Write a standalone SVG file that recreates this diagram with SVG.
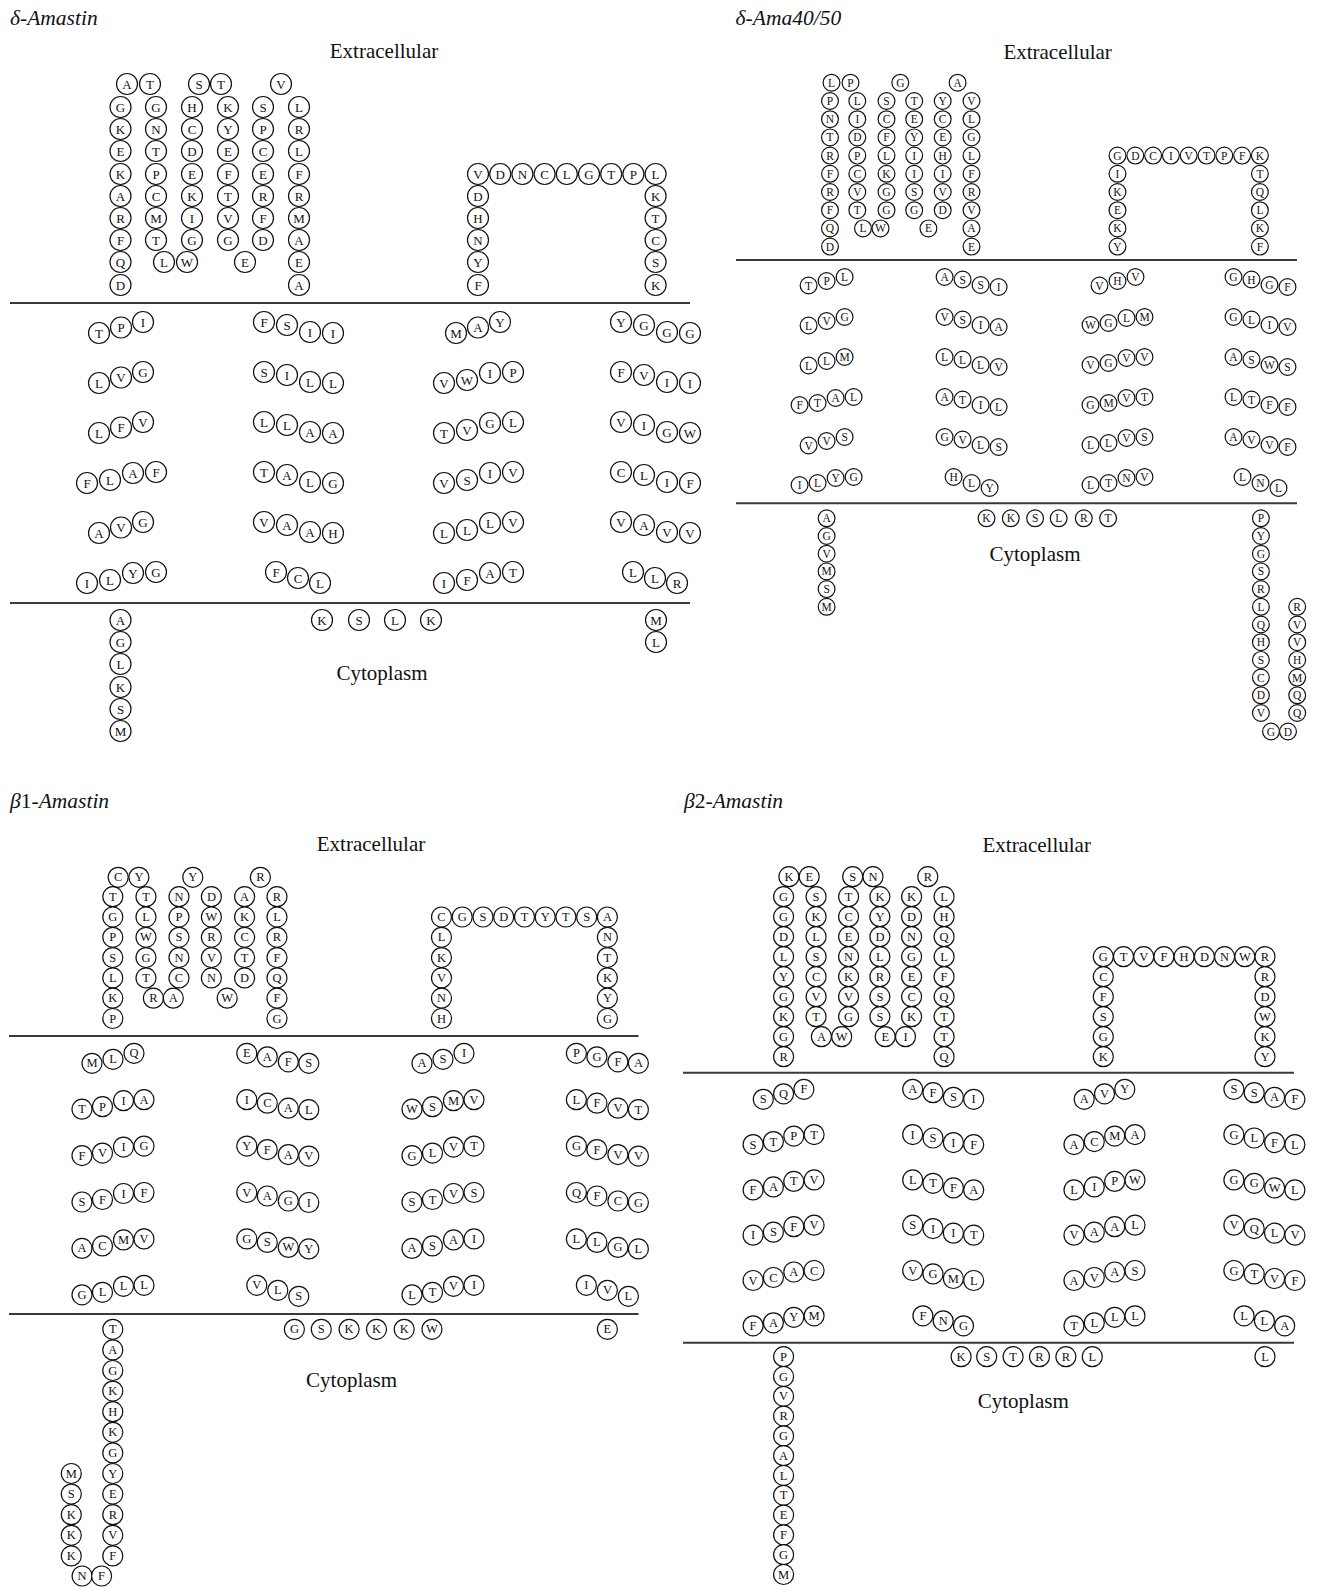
<svg xmlns="http://www.w3.org/2000/svg" width="1317" height="1587" viewBox="0 0 1317 1587">
<style>
.bg{fill:#fff}
.lbl{font-family:"Liberation Serif","DejaVu Serif",serif;font-size:21px;fill:#111}
.ttl{font-style:italic}
.big{font-size:21.5px}
.mid{text-anchor:middle}
.mem{stroke:#3a3a3a;stroke-width:2}
.res circle{fill:#fff;stroke:#111;stroke-width:1.2}
.res text{font-family:"Liberation Serif","DejaVu Serif",serif;text-anchor:middle;dominant-baseline:central;fill:#111}
.p1 circle{r:10.5px}.p1 text{font-size:13px}
.p2 circle{r:8.4px}.p2 text{font-size:11.5px}
.p3 circle{r:10px}.p3 text{font-size:12.5px}
.p4 circle{r:10px}.p4 text{font-size:12.5px}
</style>
<rect class="bg" width="1317" height="1587"/>

<!-- ================= Panel 1: delta-Amastin ================= -->
<g id="panel-delta-amastin">
<text class="lbl ttl big" x="10" y="25">δ-Amastin</text>
<text class="lbl mid" x="384" y="58">Extracellular</text>
<text class="lbl mid" x="382" y="680">Cytoplasm</text>
<line class="mem" x1="10" y1="303" x2="690" y2="303"/>
<line class="mem" x1="10" y1="603" x2="690" y2="603"/>
<g class="res p1">
<g id="d1-ext-hairpins">
<circle cx="120.5" cy="107"/><circle cx="120.5" cy="129"/><circle cx="120.5" cy="151"/><circle cx="120.5" cy="174"/><circle cx="120.5" cy="196"/><circle cx="120.5" cy="218"/><circle cx="120.5" cy="240"/><circle cx="120.5" cy="262"/><circle cx="120.5" cy="285"/>
<circle cx="127" cy="84"/><circle cx="150" cy="84"/>
<circle cx="156" cy="107"/><circle cx="156" cy="129"/><circle cx="156" cy="151"/><circle cx="156" cy="174"/><circle cx="156" cy="196"/><circle cx="156" cy="218"/><circle cx="156" cy="240"/>
<circle cx="164" cy="262"/><circle cx="187" cy="262"/>
<circle cx="192" cy="107"/><circle cx="192" cy="129"/><circle cx="192" cy="151"/><circle cx="192" cy="174"/><circle cx="192" cy="196"/><circle cx="192" cy="218"/><circle cx="192" cy="240"/>
<circle cx="199" cy="84"/><circle cx="221" cy="84"/>
<circle cx="228" cy="107"/><circle cx="228" cy="129"/><circle cx="228" cy="151"/><circle cx="228" cy="174"/><circle cx="228" cy="196"/><circle cx="228" cy="218"/><circle cx="228" cy="240"/>
<circle cx="245" cy="262"/>
<circle cx="263" cy="107"/><circle cx="263" cy="129"/><circle cx="263" cy="151"/><circle cx="263" cy="174"/><circle cx="263" cy="196"/><circle cx="263" cy="218"/><circle cx="263" cy="240"/>
<circle cx="281" cy="84"/>
<circle cx="299" cy="107"/><circle cx="299" cy="129"/><circle cx="299" cy="151"/><circle cx="299" cy="174"/><circle cx="299" cy="196"/><circle cx="299" cy="218"/><circle cx="299" cy="240"/><circle cx="299" cy="262"/><circle cx="299" cy="285"/>
<text x="120.5 120.5 120.5 120.5 120.5 120.5 120.5 120.5 120.5" y="107 129 151 174 196 218 240 262 285">GKEKARFQD</text>
<text x="127 150" y="84 84">AT</text>
<text x="156 156 156 156 156 156 156" y="107 129 151 174 196 218 240">GNTPCMT</text>
<text x="164 187" y="262 262">LW</text>
<text x="192 192 192 192 192 192 192" y="107 129 151 174 196 218 240">HCDEKIG</text>
<text x="199 221" y="84 84">ST</text>
<text x="228 228 228 228 228 228 228" y="107 129 151 174 196 218 240">KYEFTVG</text>
<text x="245" y="262">E</text>
<text x="263 263 263 263 263 263 263" y="107 129 151 174 196 218 240">SPCERFD</text>
<text x="281" y="84">V</text>
<text x="299 299 299 299 299 299 299 299 299" y="107 129 151 174 196 218 240 262 285">LRLFRMAEA</text>
</g>
<g id="d1-ext-loop">
<circle cx="478" cy="174"/><circle cx="500.2" cy="174"/><circle cx="522.4" cy="174"/><circle cx="544.6" cy="174"/><circle cx="566.8" cy="174"/><circle cx="589" cy="174"/><circle cx="611.2" cy="174"/><circle cx="633.4" cy="174"/><circle cx="655.6" cy="174"/>
<circle cx="478" cy="196"/><circle cx="478" cy="218"/><circle cx="478" cy="240"/><circle cx="478" cy="262"/><circle cx="478" cy="285"/>
<circle cx="655.6" cy="196"/><circle cx="655.6" cy="218"/><circle cx="655.6" cy="240"/><circle cx="655.6" cy="262"/><circle cx="655.6" cy="285"/>
<text x="478 500.2 522.4 544.6 566.8 589 611.2 633.4 655.6" y="174 174 174 174 174 174 174 174 174">VDNCLGTPL</text>
<text x="478 478 478 478 478" y="196 218 240 262 285">DHNYF</text>
<text x="655.6 655.6 655.6 655.6 655.6" y="196 218 240 262 285">KTCSK</text>
</g>
<g id="d1-tm1">
<circle cx="99" cy="333"/><circle cx="121" cy="327.5"/><circle cx="143" cy="322"/>
<circle cx="99" cy="383"/><circle cx="121" cy="377.5"/><circle cx="143" cy="372"/>
<circle cx="99" cy="433"/><circle cx="121" cy="427.5"/><circle cx="143" cy="422"/>
<circle cx="87" cy="483"/><circle cx="110" cy="480"/><circle cx="133" cy="473"/><circle cx="156" cy="472"/>
<circle cx="99" cy="533"/><circle cx="121" cy="527.5"/><circle cx="143" cy="522"/>
<circle cx="87" cy="583"/><circle cx="110" cy="580"/><circle cx="133" cy="573"/><circle cx="156" cy="572"/>
<text x="99 121 143 99 121 143 99 121 143 87 110 133 156 99 121 143 87 110 133 156" y="333 327.5 322 383 377.5 372 433 427.5 422 483 480 473 472 533 527.5 522 583 580 573 572">TPILVGLFVFLAFAVGILYG</text>
</g>
<g id="d1-tm2">
<circle cx="264" cy="322"/><circle cx="287" cy="325"/><circle cx="310" cy="332"/><circle cx="333" cy="333"/>
<circle cx="264" cy="372"/><circle cx="287" cy="375"/><circle cx="310" cy="382"/><circle cx="333" cy="383"/>
<circle cx="264" cy="422"/><circle cx="287" cy="425"/><circle cx="310" cy="432"/><circle cx="333" cy="433"/>
<circle cx="264" cy="472"/><circle cx="287" cy="475"/><circle cx="310" cy="482"/><circle cx="333" cy="483"/>
<circle cx="264" cy="522"/><circle cx="287" cy="525"/><circle cx="310" cy="532"/><circle cx="333" cy="533"/>
<circle cx="276" cy="572"/><circle cx="298" cy="578"/><circle cx="320" cy="583"/>
<text x="264 287 310 333 264 287 310 333 264 287 310 333 264 287 310 333 264 287 310 333 276 298 320" y="322 325 332 333 372 375 382 383 422 425 432 433 472 475 482 483 522 525 532 533 572 578 583">FSIISILLLLAATALGVAAHFCL</text>
</g>
<g id="d1-tm3">
<circle cx="456" cy="333"/><circle cx="478" cy="327.5"/><circle cx="500" cy="322"/>
<circle cx="444" cy="383"/><circle cx="467" cy="380"/><circle cx="490" cy="373"/><circle cx="513" cy="372"/>
<circle cx="444" cy="433"/><circle cx="467" cy="430"/><circle cx="490" cy="423"/><circle cx="513" cy="422"/>
<circle cx="444" cy="483"/><circle cx="467" cy="480"/><circle cx="490" cy="473"/><circle cx="513" cy="472"/>
<circle cx="444" cy="533"/><circle cx="467" cy="530"/><circle cx="490" cy="523"/><circle cx="513" cy="522"/>
<circle cx="444" cy="583"/><circle cx="467" cy="580"/><circle cx="490" cy="573"/><circle cx="513" cy="572"/>
<text x="456 478 500 444 467 490 513 444 467 490 513 444 467 490 513 444 467 490 513 444 467 490 513" y="333 327.5 322 383 380 373 372 433 430 423 422 483 480 473 472 533 530 523 522 583 580 573 572">MAYVWIPTVGLVSIVLLLVIFAT</text>
</g>
<g id="d1-tm4">
<circle cx="621" cy="322"/><circle cx="644" cy="325"/><circle cx="667" cy="332"/><circle cx="690" cy="333"/>
<circle cx="621" cy="372"/><circle cx="644" cy="375"/><circle cx="667" cy="382"/><circle cx="690" cy="383"/>
<circle cx="621" cy="422"/><circle cx="644" cy="425"/><circle cx="667" cy="432"/><circle cx="690" cy="433"/>
<circle cx="621" cy="472"/><circle cx="644" cy="475"/><circle cx="667" cy="482"/><circle cx="690" cy="483"/>
<circle cx="621" cy="522"/><circle cx="644" cy="525"/><circle cx="667" cy="532"/><circle cx="690" cy="533"/>
<circle cx="633" cy="572"/><circle cx="655" cy="578"/><circle cx="677" cy="583"/>
<text x="621 644 667 690 621 644 667 690 621 644 667 690 621 644 667 690 621 644 667 690 633 655 677" y="322 325 332 333 372 375 382 383 422 425 432 433 472 475 482 483 522 525 532 533 572 578 583">YGGGFVIIVIGWCLIFVAVVLLR</text>
</g>
<g id="d1-cyto">
<circle cx="120.5" cy="620"/><circle cx="120.5" cy="642"/><circle cx="120.5" cy="664"/><circle cx="120.5" cy="687"/><circle cx="120.5" cy="709"/><circle cx="120.5" cy="731"/>
<circle cx="322" cy="620"/><circle cx="359" cy="620"/><circle cx="395" cy="620"/><circle cx="431" cy="620"/>
<circle cx="656" cy="620"/><circle cx="656" cy="642"/>
<text x="120.5 120.5 120.5 120.5 120.5 120.5" y="620 642 664 687 709 731">AGLKSM</text>
<text x="322 359 395 431" y="620 620 620 620">KSLK</text>
<text x="656 656" y="620 642">ML</text>
</g>
</g>
</g>

<!-- ================= Panel 2: delta-Ama40/50 ================= -->
<g id="panel-delta-ama4050">
<text class="lbl ttl big" x="735.6" y="25">δ-Ama40/50</text>
<text class="lbl mid" x="1057.6" y="59">Extracellular</text>
<text class="lbl mid" x="1035" y="561">Cytoplasm</text>
<line class="mem" x1="736" y1="260" x2="1297" y2="260"/>
<line class="mem" x1="736" y1="503.3" x2="1297" y2="503.3"/>
<g class="res p2">
<g id="d2-ext-hairpins">
<circle cx="830" cy="101"/><circle cx="830" cy="119.2"/><circle cx="830" cy="137.4"/><circle cx="830" cy="155.6"/><circle cx="830" cy="173.8"/><circle cx="830" cy="192"/><circle cx="830" cy="210.2"/><circle cx="830" cy="228.4"/><circle cx="830" cy="246.6"/>
<circle cx="831.5" cy="82.7"/><circle cx="850.5" cy="82.7"/>
<circle cx="857.3" cy="101"/><circle cx="857.3" cy="119.2"/><circle cx="857.3" cy="137.4"/><circle cx="857.3" cy="155.6"/><circle cx="857.3" cy="173.8"/><circle cx="857.3" cy="192"/><circle cx="857.3" cy="210.2"/>
<circle cx="863" cy="228.4"/><circle cx="880.5" cy="228.4"/>
<circle cx="886.5" cy="101"/><circle cx="886.5" cy="119.2"/><circle cx="886.5" cy="137.4"/><circle cx="886.5" cy="155.6"/><circle cx="886.5" cy="173.8"/><circle cx="886.5" cy="192"/><circle cx="886.5" cy="210.2"/>
<circle cx="900.3" cy="82.7"/>
<circle cx="914.2" cy="101"/><circle cx="914.2" cy="119.2"/><circle cx="914.2" cy="137.4"/><circle cx="914.2" cy="155.6"/><circle cx="914.2" cy="173.8"/><circle cx="914.2" cy="192"/><circle cx="914.2" cy="210.2"/>
<circle cx="928.4" cy="228.4"/>
<circle cx="942.7" cy="101"/><circle cx="942.7" cy="119.2"/><circle cx="942.7" cy="137.4"/><circle cx="942.7" cy="155.6"/><circle cx="942.7" cy="173.8"/><circle cx="942.7" cy="192"/><circle cx="942.7" cy="210.2"/>
<circle cx="957.6" cy="82.7"/>
<circle cx="971.5" cy="101"/><circle cx="971.5" cy="119.2"/><circle cx="971.5" cy="137.4"/><circle cx="971.5" cy="155.6"/><circle cx="971.5" cy="173.8"/><circle cx="971.5" cy="192"/><circle cx="971.5" cy="210.2"/><circle cx="971.5" cy="228.4"/><circle cx="971.5" cy="246.6"/>
<text x="830 830 830 830 830 830 830 830 830" y="101 119.2 137.4 155.6 173.8 192 210.2 228.4 246.6">PNTRFRFQD</text>
<text x="831.5 850.5" y="82.7 82.7">LP</text>
<text x="857.3 857.3 857.3 857.3 857.3 857.3 857.3" y="101 119.2 137.4 155.6 173.8 192 210.2">LIDPCVT</text>
<text x="863 880.5" y="228.4 228.4">LW</text>
<text x="886.5 886.5 886.5 886.5 886.5 886.5 886.5" y="101 119.2 137.4 155.6 173.8 192 210.2">SCFLKGG</text>
<text x="900.3" y="82.7">G</text>
<text x="914.2 914.2 914.2 914.2 914.2 914.2 914.2" y="101 119.2 137.4 155.6 173.8 192 210.2">TEYIISG</text>
<text x="928.4" y="228.4">E</text>
<text x="942.7 942.7 942.7 942.7 942.7 942.7 942.7" y="101 119.2 137.4 155.6 173.8 192 210.2">YCEHIVD</text>
<text x="957.6" y="82.7">A</text>
<text x="971.5 971.5 971.5 971.5 971.5 971.5 971.5 971.5 971.5" y="101 119.2 137.4 155.6 173.8 192 210.2 228.4 246.6">VLGLFRVAE</text>
</g>
<g id="d2-ext-loop">
<circle cx="1117.5" cy="155.6"/><circle cx="1135.3" cy="155.6"/><circle cx="1153.1" cy="155.6"/><circle cx="1170.9" cy="155.6"/><circle cx="1188.7" cy="155.6"/><circle cx="1206.5" cy="155.6"/><circle cx="1224.3" cy="155.6"/><circle cx="1242.1" cy="155.6"/><circle cx="1259.9" cy="155.6"/>
<circle cx="1117.5" cy="173.8"/><circle cx="1117.5" cy="192"/><circle cx="1117.5" cy="210.2"/><circle cx="1117.5" cy="228.4"/><circle cx="1117.5" cy="246.6"/>
<circle cx="1259.9" cy="173.8"/><circle cx="1259.9" cy="192"/><circle cx="1259.9" cy="210.2"/><circle cx="1259.9" cy="228.4"/><circle cx="1259.9" cy="246.6"/>
<text x="1117.5 1135.3 1153.1 1170.9 1188.7 1206.5 1224.3 1242.1 1259.9" y="155.6 155.6 155.6 155.6 155.6 155.6 155.6 155.6 155.6">GDCIVTPFK</text>
<text x="1117.5 1117.5 1117.5 1117.5 1117.5" y="173.8 192 210.2 228.4 246.6">IKEKY</text>
<text x="1259.9 1259.9 1259.9 1259.9 1259.9" y="173.8 192 210.2 228.4 246.6">TQLKF</text>
</g>
<g id="d2-tm1">
<circle cx="808.6" cy="285.5"/><circle cx="826.6" cy="281"/><circle cx="844.6" cy="277"/>
<circle cx="808.6" cy="325.5"/><circle cx="826.6" cy="321"/><circle cx="844.6" cy="317"/>
<circle cx="808.6" cy="365.5"/><circle cx="826.6" cy="361"/><circle cx="844.6" cy="357"/>
<circle cx="799.6" cy="405"/><circle cx="817.6" cy="403"/><circle cx="835.6" cy="398"/><circle cx="853.6" cy="397"/>
<circle cx="808.6" cy="445.5"/><circle cx="826.6" cy="441"/><circle cx="844.6" cy="437"/>
<circle cx="799.6" cy="485"/><circle cx="817.6" cy="483"/><circle cx="835.6" cy="478"/><circle cx="853.6" cy="477"/>
<text x="808.6 826.6 844.6 808.6 826.6 844.6 808.6 826.6 844.6 799.6 817.6 835.6 853.6 808.6 826.6 844.6 799.6 817.6 835.6 853.6" y="285.5 281 277 325.5 321 317 365.5 361 357 405 403 398 397 445.5 441 437 485 483 478 477">TPLLVGLLMFTALVVSILYG</text>
</g>
<g id="d2-tm2">
<circle cx="944.6" cy="277"/><circle cx="962.6" cy="279.5"/><circle cx="980.6" cy="285"/><circle cx="998.6" cy="287"/>
<circle cx="944.6" cy="317"/><circle cx="962.6" cy="319.5"/><circle cx="980.6" cy="325"/><circle cx="998.6" cy="327"/>
<circle cx="944.6" cy="357"/><circle cx="962.6" cy="359.5"/><circle cx="980.6" cy="365"/><circle cx="998.6" cy="367"/>
<circle cx="944.6" cy="397"/><circle cx="962.6" cy="399.5"/><circle cx="980.6" cy="405"/><circle cx="998.6" cy="407"/>
<circle cx="944.6" cy="437"/><circle cx="962.6" cy="439.5"/><circle cx="980.6" cy="445"/><circle cx="998.6" cy="447"/>
<circle cx="953.6" cy="477"/><circle cx="971.6" cy="483"/><circle cx="989.6" cy="488"/>
<text x="944.6 962.6 980.6 998.6 944.6 962.6 980.6 998.6 944.6 962.6 980.6 998.6 944.6 962.6 980.6 998.6 944.6 962.6 980.6 998.6 953.6 971.6 989.6" y="277 279.5 285 287 317 319.5 325 327 357 359.5 365 367 397 399.5 405 407 437 439.5 445 447 477 483 488">ASSIVSIALLLVATILGVLSHLY</text>
</g>
<g id="d2-tm3">
<circle cx="1099.5" cy="285.5"/><circle cx="1117.5" cy="281"/><circle cx="1135.5" cy="277"/>
<circle cx="1090.5" cy="325"/><circle cx="1108.5" cy="323"/><circle cx="1126.5" cy="318"/><circle cx="1144.5" cy="317"/>
<circle cx="1090.5" cy="365"/><circle cx="1108.5" cy="363"/><circle cx="1126.5" cy="358"/><circle cx="1144.5" cy="357"/>
<circle cx="1090.5" cy="405"/><circle cx="1108.5" cy="403"/><circle cx="1126.5" cy="398"/><circle cx="1144.5" cy="397"/>
<circle cx="1090.5" cy="445"/><circle cx="1108.5" cy="443"/><circle cx="1126.5" cy="438"/><circle cx="1144.5" cy="437"/>
<circle cx="1090.5" cy="485"/><circle cx="1108.5" cy="483"/><circle cx="1126.5" cy="478"/><circle cx="1144.5" cy="477"/>
<text x="1099.5 1117.5 1135.5 1090.5 1108.5 1126.5 1144.5 1090.5 1108.5 1126.5 1144.5 1090.5 1108.5 1126.5 1144.5 1090.5 1108.5 1126.5 1144.5 1090.5 1108.5 1126.5 1144.5" y="285.5 281 277 325 323 318 317 365 363 358 357 405 403 398 397 445 443 438 437 485 483 478 477">VHVWGLMVGVVGMVTLLVSLTNV</text>
</g>
<g id="d2-tm4">
<circle cx="1233.5" cy="277"/><circle cx="1251.5" cy="279.5"/><circle cx="1269.5" cy="285"/><circle cx="1287.5" cy="287"/>
<circle cx="1233.5" cy="317"/><circle cx="1251.5" cy="319.5"/><circle cx="1269.5" cy="325"/><circle cx="1287.5" cy="327"/>
<circle cx="1233.5" cy="357"/><circle cx="1251.5" cy="359.5"/><circle cx="1269.5" cy="365"/><circle cx="1287.5" cy="367"/>
<circle cx="1233.5" cy="397"/><circle cx="1251.5" cy="399.5"/><circle cx="1269.5" cy="405"/><circle cx="1287.5" cy="407"/>
<circle cx="1233.5" cy="437"/><circle cx="1251.5" cy="439.5"/><circle cx="1269.5" cy="445"/><circle cx="1287.5" cy="447"/>
<circle cx="1242.5" cy="477"/><circle cx="1260.5" cy="483"/><circle cx="1278.5" cy="488"/>
<text x="1233.5 1251.5 1269.5 1287.5 1233.5 1251.5 1269.5 1287.5 1233.5 1251.5 1269.5 1287.5 1233.5 1251.5 1269.5 1287.5 1233.5 1251.5 1269.5 1287.5 1242.5 1260.5 1278.5" y="277 279.5 285 287 317 319.5 325 327 357 359.5 365 367 397 399.5 405 407 437 439.5 445 447 477 483 488">GHGFGLIVASWSLTFFAVVFLNL</text>
</g>
<g id="d2-cyto">
<circle cx="826.6" cy="518.3"/><circle cx="826.6" cy="536"/><circle cx="826.6" cy="553.7"/><circle cx="826.6" cy="571.4"/><circle cx="826.6" cy="589.1"/><circle cx="826.6" cy="606.8"/>
<circle cx="986.5" cy="518.3"/><circle cx="1010.8" cy="518.3"/><circle cx="1035.1" cy="518.3"/><circle cx="1058.7" cy="518.3"/><circle cx="1083.8" cy="518.3"/><circle cx="1108.1" cy="518.3"/>
<circle cx="1260.9" cy="518.3"/><circle cx="1260.9" cy="536"/><circle cx="1260.9" cy="553.7"/><circle cx="1260.9" cy="571.4"/><circle cx="1260.9" cy="589.1"/><circle cx="1260.9" cy="606.8"/><circle cx="1260.9" cy="624.5"/><circle cx="1260.9" cy="642.2"/><circle cx="1260.9" cy="659.9"/><circle cx="1260.9" cy="677.6"/><circle cx="1260.9" cy="695.3"/><circle cx="1260.9" cy="713"/>
<circle cx="1271" cy="731.5"/><circle cx="1288" cy="731.5"/>
<circle cx="1297.2" cy="606.8"/><circle cx="1297.2" cy="624.5"/><circle cx="1297.2" cy="642.2"/><circle cx="1297.2" cy="659.9"/><circle cx="1297.2" cy="677.6"/><circle cx="1297.2" cy="695.3"/><circle cx="1297.2" cy="713"/>
<text x="826.6 826.6 826.6 826.6 826.6 826.6" y="518.3 536 553.7 571.4 589.1 606.8">AGVMSM</text>
<text x="986.5 1010.8 1035.1 1058.7 1083.8 1108.1" y="518.3 518.3 518.3 518.3 518.3 518.3">KKSLRT</text>
<text x="1260.9 1260.9 1260.9 1260.9 1260.9 1260.9 1260.9 1260.9 1260.9 1260.9 1260.9 1260.9" y="518.3 536 553.7 571.4 589.1 606.8 624.5 642.2 659.9 677.6 695.3 713">PYGSRLQHSCDV</text>
<text x="1271 1288" y="731.5 731.5">GD</text>
<text x="1297.2 1297.2 1297.2 1297.2 1297.2 1297.2 1297.2" y="606.8 624.5 642.2 659.9 677.6 695.3 713">RVVHMQQ</text>
</g>
</g>
</g>

<!-- ================= Panel 3: beta1-Amastin ================= -->
<g id="panel-beta1-amastin">
<text class="lbl big" x="10" y="808"><tspan class="ttl">β</tspan>1<tspan class="ttl">-Amastin</tspan></text>
<text class="lbl mid" x="371" y="851">Extracellular</text>
<text class="lbl mid" x="351.6" y="1387">Cytoplasm</text>
<line class="mem" x1="9" y1="1036" x2="638.5" y2="1036"/>
<line class="mem" x1="9" y1="1314" x2="638.5" y2="1314"/>
<g class="res p3">
<g id="b1-ext-hairpins">
<circle cx="112.8" cy="896.7"/><circle cx="112.8" cy="917"/><circle cx="112.8" cy="937.3"/><circle cx="112.8" cy="957.6"/><circle cx="112.8" cy="977.9"/><circle cx="112.8" cy="998.2"/><circle cx="112.8" cy="1018.5"/>
<circle cx="118.2" cy="877.3"/><circle cx="138.9" cy="877.3"/>
<circle cx="146" cy="896.7"/><circle cx="146" cy="917"/><circle cx="146" cy="937.3"/><circle cx="146" cy="957.6"/><circle cx="146" cy="977.9"/>
<circle cx="153.4" cy="998.2"/><circle cx="173.3" cy="998.2"/>
<circle cx="179" cy="896.7"/><circle cx="179" cy="917"/><circle cx="179" cy="937.3"/><circle cx="179" cy="957.6"/><circle cx="179" cy="977.9"/>
<circle cx="192.8" cy="877.3"/>
<circle cx="211.4" cy="896.7"/><circle cx="211.4" cy="917"/><circle cx="211.4" cy="937.3"/><circle cx="211.4" cy="957.6"/><circle cx="211.4" cy="977.9"/>
<circle cx="227.2" cy="998.2"/>
<circle cx="244.6" cy="896.7"/><circle cx="244.6" cy="917"/><circle cx="244.6" cy="937.3"/><circle cx="244.6" cy="957.6"/><circle cx="244.6" cy="977.9"/>
<circle cx="260.4" cy="877.3"/>
<circle cx="277" cy="896.7"/><circle cx="277" cy="917"/><circle cx="277" cy="937.3"/><circle cx="277" cy="957.6"/><circle cx="277" cy="977.9"/><circle cx="277" cy="998.2"/><circle cx="277" cy="1018.5"/>
<text x="112.8 112.8 112.8 112.8 112.8 112.8 112.8" y="896.7 917 937.3 957.6 977.9 998.2 1018.5">TGPSLKP</text>
<text x="118.2 138.9" y="877.3 877.3">CY</text>
<text x="146 146 146 146 146" y="896.7 917 937.3 957.6 977.9">TLWGT</text>
<text x="153.4 173.3" y="998.2 998.2">RA</text>
<text x="179 179 179 179 179" y="896.7 917 937.3 957.6 977.9">NPSNC</text>
<text x="192.8" y="877.3">Y</text>
<text x="211.4 211.4 211.4 211.4 211.4" y="896.7 917 937.3 957.6 977.9">DWRVN</text>
<text x="227.2" y="998.2">W</text>
<text x="244.6 244.6 244.6 244.6 244.6" y="896.7 917 937.3 957.6 977.9">AKCTD</text>
<text x="260.4" y="877.3">R</text>
<text x="277 277 277 277 277 277 277" y="896.7 917 937.3 957.6 977.9 998.2 1018.5">RLRFQFG</text>
</g>
<g id="b1-ext-loop">
<circle cx="441.5" cy="917"/><circle cx="462.2" cy="917"/><circle cx="483" cy="917"/><circle cx="503.7" cy="917"/><circle cx="524.5" cy="917"/><circle cx="545.2" cy="917"/><circle cx="565.9" cy="917"/><circle cx="586.7" cy="917"/><circle cx="607.4" cy="917"/>
<circle cx="441.5" cy="937.3"/><circle cx="441.5" cy="957.6"/><circle cx="441.5" cy="977.9"/><circle cx="441.5" cy="998.2"/><circle cx="441.5" cy="1018.5"/>
<circle cx="607.4" cy="937.3"/><circle cx="607.4" cy="957.6"/><circle cx="607.4" cy="977.9"/><circle cx="607.4" cy="998.2"/><circle cx="607.4" cy="1018.5"/>
<text x="441.5 462.2 483 503.7 524.5 545.2 565.9 586.7 607.4" y="917 917 917 917 917 917 917 917 917">CGSDTYTSA</text>
<text x="441.5 441.5 441.5 441.5 441.5" y="937.3 957.6 977.9 998.2 1018.5">LKVNH</text>
<text x="607.4 607.4 607.4 607.4 607.4" y="937.3 957.6 977.9 998.2 1018.5">NTKYG</text>
</g>
<g id="b1-tm1">
<circle cx="92" cy="1063.3"/><circle cx="113" cy="1059.3"/><circle cx="134" cy="1053.3"/>
<circle cx="82" cy="1109.2"/><circle cx="102.5" cy="1106.7"/><circle cx="123.5" cy="1100.7"/><circle cx="144" cy="1099.7"/>
<circle cx="82" cy="1155.6"/><circle cx="102.5" cy="1153.1"/><circle cx="123.5" cy="1147.1"/><circle cx="144" cy="1146.1"/>
<circle cx="82" cy="1202"/><circle cx="102.5" cy="1199.5"/><circle cx="123.5" cy="1193.5"/><circle cx="144" cy="1192.5"/>
<circle cx="82" cy="1248.4"/><circle cx="102.5" cy="1245.9"/><circle cx="123.5" cy="1239.9"/><circle cx="144" cy="1238.9"/>
<circle cx="82" cy="1294.8"/><circle cx="102.5" cy="1292.3"/><circle cx="123.5" cy="1286.3"/><circle cx="144" cy="1285.3"/>
<text x="92 113 134 82 102.5 123.5 144 82 102.5 123.5 144 82 102.5 123.5 144 82 102.5 123.5 144 82 102.5 123.5 144" y="1063.3 1059.3 1053.3 1109.2 1106.7 1100.7 1099.7 1155.6 1153.1 1147.1 1146.1 1202 1199.5 1193.5 1192.5 1248.4 1245.9 1239.9 1238.9 1294.8 1292.3 1286.3 1285.3">MLQTPIAFVIGSFIFACMVGLLL</text>
</g>
<g id="b1-tm2">
<circle cx="246.8" cy="1053.3"/><circle cx="267.3" cy="1056.8"/><circle cx="288.3" cy="1061.8"/><circle cx="308.8" cy="1063.3"/>
<circle cx="246.8" cy="1099.7"/><circle cx="267.3" cy="1103.2"/><circle cx="288.3" cy="1108.2"/><circle cx="308.8" cy="1109.7"/>
<circle cx="246.8" cy="1146.1"/><circle cx="267.3" cy="1149.6"/><circle cx="288.3" cy="1154.6"/><circle cx="308.8" cy="1156.1"/>
<circle cx="246.8" cy="1192.5"/><circle cx="267.3" cy="1196"/><circle cx="288.3" cy="1201"/><circle cx="308.8" cy="1202.5"/>
<circle cx="246.8" cy="1238.9"/><circle cx="267.3" cy="1242.4"/><circle cx="288.3" cy="1247.4"/><circle cx="308.8" cy="1248.9"/>
<circle cx="256.8" cy="1285.3"/><circle cx="277.8" cy="1290.3"/><circle cx="298.8" cy="1296.3"/>
<text x="246.8 267.3 288.3 308.8 246.8 267.3 288.3 308.8 246.8 267.3 288.3 308.8 246.8 267.3 288.3 308.8 246.8 267.3 288.3 308.8 256.8 277.8 298.8" y="1053.3 1056.8 1061.8 1063.3 1099.7 1103.2 1108.2 1109.7 1146.1 1149.6 1154.6 1156.1 1192.5 1196 1201 1202.5 1238.9 1242.4 1247.4 1248.9 1285.3 1290.3 1296.3">EAFSICALYFAVVAGIGSWYVLS</text>
</g>
<g id="b1-tm3">
<circle cx="422" cy="1063.3"/><circle cx="443" cy="1059.3"/><circle cx="464" cy="1053.3"/>
<circle cx="412" cy="1109.2"/><circle cx="432.5" cy="1106.7"/><circle cx="453.5" cy="1100.7"/><circle cx="474" cy="1099.7"/>
<circle cx="412" cy="1155.6"/><circle cx="432.5" cy="1153.1"/><circle cx="453.5" cy="1147.1"/><circle cx="474" cy="1146.1"/>
<circle cx="412" cy="1202"/><circle cx="432.5" cy="1199.5"/><circle cx="453.5" cy="1193.5"/><circle cx="474" cy="1192.5"/>
<circle cx="412" cy="1248.4"/><circle cx="432.5" cy="1245.9"/><circle cx="453.5" cy="1239.9"/><circle cx="474" cy="1238.9"/>
<circle cx="412" cy="1294.8"/><circle cx="432.5" cy="1292.3"/><circle cx="453.5" cy="1286.3"/><circle cx="474" cy="1285.3"/>
<text x="422 443 464 412 432.5 453.5 474 412 432.5 453.5 474 412 432.5 453.5 474 412 432.5 453.5 474 412 432.5 453.5 474" y="1063.3 1059.3 1053.3 1109.2 1106.7 1100.7 1099.7 1155.6 1153.1 1147.1 1146.1 1202 1199.5 1193.5 1192.5 1248.4 1245.9 1239.9 1238.9 1294.8 1292.3 1286.3 1285.3">ASIWSMVGLVTSTVSASAILTVI</text>
</g>
<g id="b1-tm4">
<circle cx="576.4" cy="1053.3"/><circle cx="596.9" cy="1056.8"/><circle cx="617.9" cy="1061.8"/><circle cx="638.4" cy="1063.3"/>
<circle cx="576.4" cy="1099.7"/><circle cx="596.9" cy="1103.2"/><circle cx="617.9" cy="1108.2"/><circle cx="638.4" cy="1109.7"/>
<circle cx="576.4" cy="1146.1"/><circle cx="596.9" cy="1149.6"/><circle cx="617.9" cy="1154.6"/><circle cx="638.4" cy="1156.1"/>
<circle cx="576.4" cy="1192.5"/><circle cx="596.9" cy="1196"/><circle cx="617.9" cy="1201"/><circle cx="638.4" cy="1202.5"/>
<circle cx="576.4" cy="1238.9"/><circle cx="596.9" cy="1242.4"/><circle cx="617.9" cy="1247.4"/><circle cx="638.4" cy="1248.9"/>
<circle cx="586.4" cy="1285.3"/><circle cx="607.4" cy="1290.3"/><circle cx="628.4" cy="1296.3"/>
<text x="576.4 596.9 617.9 638.4 576.4 596.9 617.9 638.4 576.4 596.9 617.9 638.4 576.4 596.9 617.9 638.4 576.4 596.9 617.9 638.4 586.4 607.4 628.4" y="1053.3 1056.8 1061.8 1063.3 1099.7 1103.2 1108.2 1109.7 1146.1 1149.6 1154.6 1156.1 1192.5 1196 1201 1202.5 1238.9 1242.4 1247.4 1248.9 1285.3 1290.3 1296.3">PGFALFVTGFVVQFCGLLGLIVL</text>
</g>
<g id="b1-cyto">
<circle cx="112.8" cy="1329.3"/><circle cx="112.8" cy="1349.9"/><circle cx="112.8" cy="1370.5"/><circle cx="112.8" cy="1391.1"/><circle cx="112.8" cy="1411.7"/><circle cx="112.8" cy="1432.3"/><circle cx="112.8" cy="1452.9"/><circle cx="112.8" cy="1473.5"/><circle cx="112.8" cy="1494.1"/><circle cx="112.8" cy="1514.7"/><circle cx="112.8" cy="1535.3"/><circle cx="112.8" cy="1555.9"/>
<circle cx="71.3" cy="1473.5"/><circle cx="71.3" cy="1494.1"/><circle cx="71.3" cy="1514.7"/><circle cx="71.3" cy="1535.3"/><circle cx="71.3" cy="1555.9"/>
<circle cx="82.1" cy="1576"/><circle cx="101.6" cy="1576"/>
<circle cx="294.4" cy="1329.3"/><circle cx="321.3" cy="1329.3"/><circle cx="349.1" cy="1329.3"/><circle cx="376.5" cy="1329.3"/><circle cx="404.2" cy="1329.3"/><circle cx="432" cy="1329.3"/>
<circle cx="607.4" cy="1329.3"/>
<text x="112.8 112.8 112.8 112.8 112.8 112.8 112.8 112.8 112.8 112.8 112.8 112.8" y="1329.3 1349.9 1370.5 1391.1 1411.7 1432.3 1452.9 1473.5 1494.1 1514.7 1535.3 1555.9">TAGKHKGYERVF</text>
<text x="71.3 71.3 71.3 71.3 71.3" y="1473.5 1494.1 1514.7 1535.3 1555.9">MSKKK</text>
<text x="82.1 101.6" y="1576 1576">NF</text>
<text x="294.4 321.3 349.1 376.5 404.2 432" y="1329.3 1329.3 1329.3 1329.3 1329.3 1329.3">GSKKKW</text>
<text x="607.4" y="1329.3">E</text>
</g>
</g>
</g>

<!-- ================= Panel 4: beta2-Amastin ================= -->
<g id="panel-beta2-amastin">
<text class="lbl big" x="684" y="808"><tspan class="ttl">β</tspan>2<tspan class="ttl">-Amastin</tspan></text>
<text class="lbl mid" x="1036.7" y="852">Extracellular</text>
<text class="lbl mid" x="1023.3" y="1408">Cytoplasm</text>
<line class="mem" x1="683" y1="1072.7" x2="1294" y2="1072.7"/>
<line class="mem" x1="683" y1="1342.7" x2="1294" y2="1342.7"/>
<g class="res p4">
<g id="b2-ext-hairpins">
<circle cx="783.6" cy="896.7"/><circle cx="783.6" cy="916.7"/><circle cx="783.6" cy="936.7"/><circle cx="783.6" cy="956.7"/><circle cx="783.6" cy="976.7"/><circle cx="783.6" cy="996.7"/><circle cx="783.6" cy="1016.7"/><circle cx="783.6" cy="1036.7"/><circle cx="783.6" cy="1056.7"/>
<circle cx="788.9" cy="876.7"/><circle cx="809.2" cy="876.7"/>
<circle cx="816.1" cy="896.7"/><circle cx="816.1" cy="916.7"/><circle cx="816.1" cy="936.7"/><circle cx="816.1" cy="956.7"/><circle cx="816.1" cy="976.7"/><circle cx="816.1" cy="996.7"/><circle cx="816.1" cy="1016.7"/>
<circle cx="821.4" cy="1036.7"/><circle cx="841.7" cy="1036.7"/>
<circle cx="848.6" cy="896.7"/><circle cx="848.6" cy="916.7"/><circle cx="848.6" cy="936.7"/><circle cx="848.6" cy="956.7"/><circle cx="848.6" cy="976.7"/><circle cx="848.6" cy="996.7"/><circle cx="848.6" cy="1016.7"/>
<circle cx="852.7" cy="876.7"/><circle cx="873" cy="876.7"/>
<circle cx="879.9" cy="896.7"/><circle cx="879.9" cy="916.7"/><circle cx="879.9" cy="936.7"/><circle cx="879.9" cy="956.7"/><circle cx="879.9" cy="976.7"/><circle cx="879.9" cy="996.7"/><circle cx="879.9" cy="1016.7"/>
<circle cx="885.2" cy="1036.7"/><circle cx="905.5" cy="1036.7"/>
<circle cx="911.6" cy="896.7"/><circle cx="911.6" cy="916.7"/><circle cx="911.6" cy="936.7"/><circle cx="911.6" cy="956.7"/><circle cx="911.6" cy="976.7"/><circle cx="911.6" cy="996.7"/><circle cx="911.6" cy="1016.7"/>
<circle cx="927.8" cy="876.7"/>
<circle cx="944.1" cy="896.7"/><circle cx="944.1" cy="916.7"/><circle cx="944.1" cy="936.7"/><circle cx="944.1" cy="956.7"/><circle cx="944.1" cy="976.7"/><circle cx="944.1" cy="996.7"/><circle cx="944.1" cy="1016.7"/><circle cx="944.1" cy="1036.7"/><circle cx="944.1" cy="1056.7"/>
<text x="783.6 783.6 783.6 783.6 783.6 783.6 783.6 783.6 783.6" y="896.7 916.7 936.7 956.7 976.7 996.7 1016.7 1036.7 1056.7">GGDLYGKGR</text>
<text x="788.9 809.2" y="876.7 876.7">KE</text>
<text x="816.1 816.1 816.1 816.1 816.1 816.1 816.1" y="896.7 916.7 936.7 956.7 976.7 996.7 1016.7">SKLSCVT</text>
<text x="821.4 841.7" y="1036.7 1036.7">AW</text>
<text x="848.6 848.6 848.6 848.6 848.6 848.6 848.6" y="896.7 916.7 936.7 956.7 976.7 996.7 1016.7">TCENKVG</text>
<text x="852.7 873" y="876.7 876.7">SN</text>
<text x="879.9 879.9 879.9 879.9 879.9 879.9 879.9" y="896.7 916.7 936.7 956.7 976.7 996.7 1016.7">KYDLRSS</text>
<text x="885.2 905.5" y="1036.7 1036.7">EI</text>
<text x="911.6 911.6 911.6 911.6 911.6 911.6 911.6" y="896.7 916.7 936.7 956.7 976.7 996.7 1016.7">KDNGECK</text>
<text x="927.8" y="876.7">R</text>
<text x="944.1 944.1 944.1 944.1 944.1 944.1 944.1 944.1 944.1" y="896.7 916.7 936.7 956.7 976.7 996.7 1016.7 1036.7 1056.7">LHQLFQTTQ</text>
</g>
<g id="b2-ext-loop">
<circle cx="1103.3" cy="956.7"/><circle cx="1123.5" cy="956.7"/><circle cx="1143.7" cy="956.7"/><circle cx="1163.9" cy="956.7"/><circle cx="1184.1" cy="956.7"/><circle cx="1204.4" cy="956.7"/><circle cx="1224.6" cy="956.7"/><circle cx="1244.8" cy="956.7"/><circle cx="1265" cy="956.7"/>
<circle cx="1103.3" cy="976.7"/><circle cx="1103.3" cy="996.7"/><circle cx="1103.3" cy="1016.7"/><circle cx="1103.3" cy="1036.7"/><circle cx="1103.3" cy="1056.7"/>
<circle cx="1265" cy="976.7"/><circle cx="1265" cy="996.7"/><circle cx="1265" cy="1016.7"/><circle cx="1265" cy="1036.7"/><circle cx="1265" cy="1056.7"/>
<text x="1103.3 1123.5 1143.7 1163.9 1184.1 1204.4 1224.6 1244.8 1265" y="956.7 956.7 956.7 956.7 956.7 956.7 956.7 956.7 956.7">GTVFHDNWR</text>
<text x="1103.3 1103.3 1103.3 1103.3 1103.3" y="976.7 996.7 1016.7 1036.7 1056.7">CFSGK</text>
<text x="1265 1265 1265 1265 1265" y="976.7 996.7 1016.7 1036.7 1056.7">RDWKY</text>
</g>
<g id="b2-tm1">
<circle cx="763.3" cy="1099.3"/><circle cx="783.6" cy="1093.8"/><circle cx="803.9" cy="1089.3"/>
<circle cx="753.1" cy="1144.6"/><circle cx="773.4" cy="1141.6"/><circle cx="793.8" cy="1136.1"/><circle cx="814.1" cy="1134.6"/>
<circle cx="753.1" cy="1189.9"/><circle cx="773.4" cy="1186.9"/><circle cx="793.8" cy="1181.4"/><circle cx="814.1" cy="1179.9"/>
<circle cx="753.1" cy="1235.2"/><circle cx="773.4" cy="1232.2"/><circle cx="793.8" cy="1226.7"/><circle cx="814.1" cy="1225.2"/>
<circle cx="753.1" cy="1280.5"/><circle cx="773.4" cy="1277.5"/><circle cx="793.8" cy="1272"/><circle cx="814.1" cy="1270.5"/>
<circle cx="753.1" cy="1325.8"/><circle cx="773.4" cy="1322.8"/><circle cx="793.8" cy="1317.3"/><circle cx="814.1" cy="1315.8"/>
<text x="763.3 783.6 803.9 753.1 773.4 793.8 814.1 753.1 773.4 793.8 814.1 753.1 773.4 793.8 814.1 753.1 773.4 793.8 814.1 753.1 773.4 793.8 814.1" y="1099.3 1093.8 1089.3 1144.6 1141.6 1136.1 1134.6 1189.9 1186.9 1181.4 1179.9 1235.2 1232.2 1226.7 1225.2 1280.5 1277.5 1272 1270.5 1325.8 1322.8 1317.3 1315.8">SQFSTPTFATVISFVVCACFAYM</text>
</g>
<g id="b2-tm2">
<circle cx="912.7" cy="1089.3"/><circle cx="933" cy="1092.7"/><circle cx="953.4" cy="1097.3"/><circle cx="973.7" cy="1099.3"/>
<circle cx="912.7" cy="1134.6"/><circle cx="933" cy="1138"/><circle cx="953.4" cy="1142.6"/><circle cx="973.7" cy="1144.6"/>
<circle cx="912.7" cy="1179.9"/><circle cx="933" cy="1183.3"/><circle cx="953.4" cy="1187.9"/><circle cx="973.7" cy="1189.9"/>
<circle cx="912.7" cy="1225.2"/><circle cx="933" cy="1228.6"/><circle cx="953.4" cy="1233.2"/><circle cx="973.7" cy="1235.2"/>
<circle cx="912.7" cy="1270.5"/><circle cx="933" cy="1273.9"/><circle cx="953.4" cy="1278.5"/><circle cx="973.7" cy="1280.5"/>
<circle cx="922.9" cy="1315.8"/><circle cx="943.2" cy="1320.8"/><circle cx="963.5" cy="1325.8"/>
<text x="912.7 933 953.4 973.7 912.7 933 953.4 973.7 912.7 933 953.4 973.7 912.7 933 953.4 973.7 912.7 933 953.4 973.7 922.9 943.2 963.5" y="1089.3 1092.7 1097.3 1099.3 1134.6 1138 1142.6 1144.6 1179.9 1183.3 1187.9 1189.9 1225.2 1228.6 1233.2 1235.2 1270.5 1273.9 1278.5 1280.5 1315.8 1320.8 1325.8">AFSIISIFLTFASIITVGMLFNG</text>
</g>
<g id="b2-tm3">
<circle cx="1084.2" cy="1099.3"/><circle cx="1104.5" cy="1093.8"/><circle cx="1124.8" cy="1089.3"/>
<circle cx="1074" cy="1144.6"/><circle cx="1094.3" cy="1141.6"/><circle cx="1114.7" cy="1136.1"/><circle cx="1135" cy="1134.6"/>
<circle cx="1074" cy="1189.9"/><circle cx="1094.3" cy="1186.9"/><circle cx="1114.7" cy="1181.4"/><circle cx="1135" cy="1179.9"/>
<circle cx="1074" cy="1235.2"/><circle cx="1094.3" cy="1232.2"/><circle cx="1114.7" cy="1226.7"/><circle cx="1135" cy="1225.2"/>
<circle cx="1074" cy="1280.5"/><circle cx="1094.3" cy="1277.5"/><circle cx="1114.7" cy="1272"/><circle cx="1135" cy="1270.5"/>
<circle cx="1074" cy="1325.8"/><circle cx="1094.3" cy="1322.8"/><circle cx="1114.7" cy="1317.3"/><circle cx="1135" cy="1315.8"/>
<text x="1084.2 1104.5 1124.8 1074 1094.3 1114.7 1135 1074 1094.3 1114.7 1135 1074 1094.3 1114.7 1135 1074 1094.3 1114.7 1135 1074 1094.3 1114.7 1135" y="1099.3 1093.8 1089.3 1144.6 1141.6 1136.1 1134.6 1189.9 1186.9 1181.4 1179.9 1235.2 1232.2 1226.7 1225.2 1280.5 1277.5 1272 1270.5 1325.8 1322.8 1317.3 1315.8">AVYACMALIPWVAALAVASTLLL</text>
</g>
<g id="b2-tm4">
<circle cx="1233.9" cy="1089.3"/><circle cx="1254.2" cy="1092.7"/><circle cx="1274.6" cy="1097.3"/><circle cx="1294.9" cy="1099.3"/>
<circle cx="1233.9" cy="1134.6"/><circle cx="1254.2" cy="1138"/><circle cx="1274.6" cy="1142.6"/><circle cx="1294.9" cy="1144.6"/>
<circle cx="1233.9" cy="1179.9"/><circle cx="1254.2" cy="1183.3"/><circle cx="1274.6" cy="1187.9"/><circle cx="1294.9" cy="1189.9"/>
<circle cx="1233.9" cy="1225.2"/><circle cx="1254.2" cy="1228.6"/><circle cx="1274.6" cy="1233.2"/><circle cx="1294.9" cy="1235.2"/>
<circle cx="1233.9" cy="1270.5"/><circle cx="1254.2" cy="1273.9"/><circle cx="1274.6" cy="1278.5"/><circle cx="1294.9" cy="1280.5"/>
<circle cx="1244.1" cy="1315.8"/><circle cx="1264.4" cy="1320.8"/><circle cx="1284.7" cy="1325.8"/>
<text x="1233.9 1254.2 1274.6 1294.9 1233.9 1254.2 1274.6 1294.9 1233.9 1254.2 1274.6 1294.9 1233.9 1254.2 1274.6 1294.9 1233.9 1254.2 1274.6 1294.9 1244.1 1264.4 1284.7" y="1089.3 1092.7 1097.3 1099.3 1134.6 1138 1142.6 1144.6 1179.9 1183.3 1187.9 1189.9 1225.2 1228.6 1233.2 1235.2 1270.5 1273.9 1278.5 1280.5 1315.8 1320.8 1325.8">SSAFGLFLGGWLVQLVGTVFLLA</text>
</g>
<g id="b2-cyto">
<circle cx="783.6" cy="1356.7"/><circle cx="783.6" cy="1376.5"/><circle cx="783.6" cy="1396.3"/><circle cx="783.6" cy="1416.1"/><circle cx="783.6" cy="1435.9"/><circle cx="783.6" cy="1455.7"/><circle cx="783.6" cy="1475.5"/><circle cx="783.6" cy="1495.3"/><circle cx="783.6" cy="1515.1"/><circle cx="783.6" cy="1534.9"/><circle cx="783.6" cy="1554.7"/><circle cx="783.6" cy="1574.5"/>
<circle cx="961.1" cy="1356.7"/><circle cx="986.7" cy="1356.7"/><circle cx="1013.1" cy="1356.7"/><circle cx="1039.5" cy="1356.7"/><circle cx="1065.9" cy="1356.7"/><circle cx="1092.3" cy="1356.7"/>
<circle cx="1265" cy="1356.7"/>
<text x="783.6 783.6 783.6 783.6 783.6 783.6 783.6 783.6 783.6 783.6 783.6 783.6" y="1356.7 1376.5 1396.3 1416.1 1435.9 1455.7 1475.5 1495.3 1515.1 1534.9 1554.7 1574.5">PGVRGALTEFGM</text>
<text x="961.1 986.7 1013.1 1039.5 1065.9 1092.3" y="1356.7 1356.7 1356.7 1356.7 1356.7 1356.7">KSTRRL</text>
<text x="1265" y="1356.7">L</text>
</g>
</g>
</g>
</svg>
